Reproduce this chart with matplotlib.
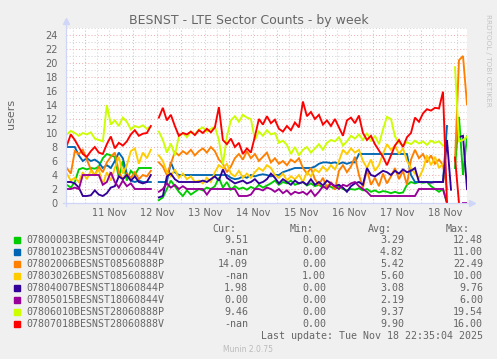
import numpy as np
import matplotlib
matplotlib.use("Agg")
import matplotlib.pyplot as plt
from matplotlib.patches import Rectangle

nan = np.nan

# readings every 2 hours, hours counted from 11 Nov 00:00
start_hour = -9
step_hours = 2

day_labels = ["11 Nov", "12 Nov", "13 Nov", "14 Nov", "15 Nov", "16 Nov", "17 Nov", "18 Nov"]

names = ["07800003BESNST00060844P", "07801023BESNST00060844V", "07802006BESNST08560888P",
         "07803026BESNST08560888V", "07804007BESNST18060844P", "07805015BESNST18060844V",
         "07806010BESNST28060888P", "07807018BESNST28060888V"]
colors = ["#00CC00", "#0066B3", "#FF8000", "#FFCC00", "#330099", "#990099", "#CCFF00", "#FF0000"]
cur_vals = ["9.51", "-nan", "14.09", "-nan", "1.98", "0.00", "9.46", "-nan"]
min_vals = ["0.00", "0.00", "0.00", "1.00", "0.00", "0.00", "0.00", "0.00"]
avg_vals = ["3.29", "4.82", "5.42", "5.60", "3.08", "2.19", "9.37", "9.90"]
max_vals = ["12.48", "11.00", "22.49", "10.00", "9.76", "6.00", "19.54", "16.00"]

green = [2.6, 2.2, 3.0, 4.8, 5.0, 4.8, 5.0, 4.9, 5.2, 6.4,
         7.0, 6.8, 6.6, 3.6, 6.0, 3.2, 4.6, 4.0, 5.0, 5.0,
         5.0, 5.0, nan, 0.4, 0.8, 2.0, 3.2, 2.4, 1.6, 1.0,
         1.8, 1.2, 1.6, 2.0, 1.8, 2.2, 2.0, 2.4, 3.6, 2.2,
         3.0, 1.9, 2.4, 2.0, 2.2, 1.9, 2.3, 2.0, 2.6, 2.2,
         2.5, 2.8, 3.2, 2.6, 3.0, 2.8, 3.2, 2.6, 2.8, 3.0,
         2.5, 2.8, 2.4, 2.6, 2.2, 2.5, 2.3, 2.0, 2.4, 2.0,
         1.8, 2.0, 1.9, 2.1, 1.8, 2.0, 1.6, 1.8, 1.5, 1.7,
         1.6, 1.4, 1.6, 1.4, 1.5, 2.6, 3.0, 2.8, 3.0, 2.9,
         3.0, 2.4, 2.0, 1.6, 2.0, 0.0, nan, 5.0, 12.3, 4.0,
         9.51]
blue = [8.0, 8.0, 8.0, 6.8, 6.0, 6.4, 6.0, 6.2, 5.8, 5.0,
        5.4, 5.0, 6.0, 7.2, 6.4, 4.2, 3.2, 3.0, 3.2, 3.0,
        3.0, 3.0, nan, 3.0, 3.0, 3.0, 5.8, 4.4, 4.0, 4.0,
        4.0, 4.0, 4.0, 4.0, 4.0, 4.0, 4.0, 4.0, 4.0, 4.0,
        4.0, 3.6, 3.4, 3.5, 3.8, 3.6, 4.0, 3.8, 4.0, 4.1,
        4.0, 3.8, 4.0, 4.0, 4.4, 4.6, 4.8, 5.0, 5.0, 5.0,
        5.0, 5.0, 5.2, 5.6, 5.8, 5.8, 5.7, 5.8, 5.6, 5.8,
        5.6, 5.8, 5.8, 7.0, 7.0, 7.0, 7.0, 7.0, 7.0, 7.0,
        7.0, 7.0, 7.0, 7.0, 7.0, 7.0, 4.0, 3.0, 3.0, 3.0,
        3.0, 3.0, 3.0, 3.0, 3.0, 11.0, nan, nan, nan, nan,
        nan]
orange = [5.0, 4.2, 7.4, 7.0, 7.6, 6.2, 4.8, 4.0, 5.2, 4.4,
          5.8, 6.6, 7.2, 4.4, 3.4, 4.2, 3.6, 4.4, 3.4, 4.0,
          3.8, 4.6, nan, 5.8, 5.2, 4.0, 5.6, 7.3, 6.8, 7.4,
          7.0, 7.6, 6.8, 7.4, 7.8, 7.2, 8.0, 7.4, 6.2, 5.6,
          4.4, 5.2, 6.4, 7.0, 6.2, 7.4, 6.4, 7.0, 6.0, 6.6,
          7.2, 5.8, 6.4, 5.6, 6.0, 5.4, 6.2, 5.8, 6.4, 5.0,
          4.2, 5.0, 3.4, 2.6, 3.6, 2.2, 3.0, 1.9, 4.6, 5.4,
          4.4, 5.2, 6.6, 4.0, 2.2, 4.8, 2.6, 3.6, 2.4, 4.2,
          2.8, 3.8, 5.0, 3.4, 4.6, 2.6, 6.2, 7.6, 6.4, 7.0,
          5.8, 6.8, 5.6, 6.2, 5.4, 2.0, nan, 6.0, 20.4, 21.0,
          14.09]
yellow = [4.2, 3.2, 3.6, 3.0, 4.4, 3.4, 4.6, 4.0, 4.8, 2.6,
          4.4, 3.2, 5.0, 6.6, 4.2, 5.4, 7.4, 7.8, 5.6, 7.2,
          6.4, 7.6, nan, 6.8, 6.0, 4.4, 3.8, 4.8, 3.6, 4.2,
          3.4, 3.8, 3.0, 3.2, 2.8, 3.6, 3.0, 4.4, 5.4, 5.0,
          5.6, 4.2, 3.8, 4.6, 3.6, 4.2, 3.6, 4.4, 5.0, 4.6,
          5.4, 5.0, 4.0, 3.6, 4.2, 3.2, 3.8, 3.4, 4.0, 3.0,
          4.4, 3.8, 4.8, 4.4, 5.2, 4.6, 5.4, 4.8, 6.0, 7.6,
          7.0, 7.8, 7.2, 7.6, 6.0, 5.0, 6.2, 4.6, 5.4, 7.0,
          8.4, 7.6, 8.2, 7.0, 7.8, 6.0, 5.0, 4.2, 3.6, 4.8,
          6.8, 5.4, 6.6, 5.0, 5.6, nan, nan, nan, nan, nan,
          nan]
indigo = [3.0, 3.0, 2.8, 2.2, 1.0, 1.0, 1.1, 1.8, 1.2, 1.0,
          1.4, 2.2, 2.4, 3.8, 3.4, 4.0, 3.2, 3.8, 3.0, 2.8,
          3.0, 4.0, nan, 0.8, 1.0, 3.8, 4.2, 3.4, 3.0, 3.0,
          3.0, 3.0, 3.0, 3.0, 3.2, 3.0, 3.4, 3.8, 3.2, 4.8,
          3.6, 3.2, 2.8, 3.0, 3.2, 2.8, 3.0, 3.4, 2.8, 3.0,
          3.4, 4.2, 3.6, 2.8, 3.4, 3.0, 2.6, 3.2, 2.8, 3.0,
          2.6, 3.4, 2.6, 3.0, 2.5, 3.2, 2.8, 2.4, 2.6, 2.2,
          1.6, 2.4, 2.8, 3.0, 2.6, 5.0, 4.0, 3.8, 4.2, 4.6,
          4.4, 4.0, 4.6, 4.2, 4.8, 4.4, 4.6, 5.0, 3.0, 3.0,
          3.0, 2.9, 3.0, 3.0, 3.0, 9.0, 1.9, nan, 9.4, 9.6,
          1.98]
purple = [2.0, 2.0, 2.2, 2.0, 4.0, 4.0, 4.0, 4.0, 4.0, 2.6,
          3.0, 4.4, 3.0, 2.2, 3.2, 2.4, 2.8, 2.0, 2.0, 2.0,
          2.0, 2.0, nan, 1.6, 2.0, 2.8, 2.2, 2.6, 2.0, 2.4,
          2.0, 2.0, 2.0, 2.0, 2.0, 1.2, 2.0, 2.0, 2.0, 2.0,
          2.0, 2.0, 2.0, 1.0, 1.0, 1.0, 1.2, 2.0, 2.0, 1.8,
          2.2, 2.0, 1.6, 2.0, 1.4, 1.8, 1.2, 1.6, 1.4, 1.6,
          1.2, 1.8, 1.0, 1.6, 2.4, 2.0, 2.8, 2.4, 2.0, 2.6,
          2.4, 2.8, 3.0, 2.4, 2.0, 1.6, 1.0, 1.0, 1.0, 1.0,
          1.0, 1.0, 1.0, 1.0, 1.0, 1.0, 1.0, 1.0, 2.0, 2.0,
          2.0, 2.0, 2.0, 2.0, 2.0, 0.0, nan, nan, nan, 0.0,
          0.0]
lime = [9.8, 10.3, 10.0, 9.6, 10.0, 9.8, 10.1, 9.2, 9.0, 8.8,
        14.0, 11.2, 11.8, 11.0, 12.2, 11.6, 10.5, 11.0, 10.8, 11.1,
        10.6, 10.9, nan, 10.2, 9.0, 7.2, 8.5, 6.8, 9.5, 10.0,
        9.4, 10.2, 9.8, 10.5, 10.8, 10.2, 10.6, 10.9, 9.0, 5.5,
        9.5, 11.8, 12.4, 11.6, 12.6, 12.2, 12.0, 9.0, 10.2, 9.6,
        10.4, 9.8, 10.0, 8.6, 8.9, 8.3, 7.0, 8.0, 6.8, 7.6,
        8.0, 7.2, 7.8, 8.4, 7.6, 8.6, 9.0, 8.8, 9.4, 8.2,
        8.8, 9.6, 9.2, 9.8, 9.0, 10.0, 8.8, 9.6, 8.4, 10.5,
        12.3, 12.0, 9.5, 8.6, 8.2, 8.7, 8.4, 8.9, 8.5, 8.8,
        8.3, 8.9, 8.6, 8.8, 8.2, nan, nan, 19.4, 8.8, 9.0,
        9.46]
red = [8.2, 9.8, 9.0, 8.0, 7.0, 6.6, 7.4, 8.0, 7.2, 7.0,
       8.4, 9.5, 7.8, 8.6, 8.2, 8.8, 9.8, 10.4, 9.6, 9.9,
       10.0, 11.0, nan, 12.2, 13.6, 11.8, 12.6, 11.0, 9.6, 10.0,
       9.8, 10.2, 9.7, 10.4, 10.0, 10.6, 10.1, 10.8, 13.7, 9.0,
       8.4, 9.2, 8.0, 8.6, 7.0, 7.8, 7.2, 9.5, 12.0, 11.2,
       12.4, 11.4, 11.9, 10.6, 10.2, 11.0, 10.4, 11.5, 10.8, 14.5,
       12.4, 13.0, 12.0, 12.6, 11.2, 11.8, 11.0, 12.0, 10.8, 9.6,
       11.8, 12.2, 11.4, 12.5, 10.0, 9.0, 9.6, 8.4, 7.5, 6.6,
       5.4, 6.8, 8.2, 9.0, 8.0, 9.4, 10.0, 12.2, 11.6, 12.8,
       13.4, 13.2, 13.6, 13.5, 15.9, 0.0, nan, 6.5, 0.0, nan,
       nan]

series = [green, blue, orange, yellow, indigo, purple, lime, red]

W, H = 497, 359
font_col = "#666666"
axis_col = "#CFD6F8"
grid_col = "#D5D5D5"
mgrid_col = "#F2B0B0"

fig = plt.figure(figsize=(W / 100, H / 100), dpi=100, facecolor="#F0F0F0")
ax = fig.add_axes([66 / W, 1 - 203 / H, 401 / W, 175 / H])
ax.set_facecolor("white")

hours = start_hour + step_hours * np.arange(len(red))
x_left, x_right = -9.4, 191

# grid: gray every 6 h / 1 user, red every day / 2 users
for h in range(-6, 192, 6):
    c = mgrid_col if h % 24 == 0 else grid_col
    ax.axvline(h, color=c, lw=0.75, ls=(0, (1, 2)), zorder=1 if h % 24 else 2)
for y in range(1, 26):
    c = mgrid_col if y % 2 == 0 else grid_col
    ax.axhline(y, color=c, lw=0.75, ls=(0, (1, 2)), zorder=1 if y % 2 else 2)

for vals, col in zip(series, colors):
    ax.plot(hours, vals, color=col, lw=1.35, zorder=3, solid_joinstyle="miter")

ax.set_xlim(x_left, x_right)
ax.set_ylim(0, 25)
for s in ax.spines.values():
    s.set_visible(False)

ax.set_xticks([12 + 24 * k for k in range(len(day_labels))])
ax.set_xticklabels(day_labels)
ax.set_yticks(range(0, 25, 2))
ax.tick_params(axis="both", length=0, labelsize=7, labelcolor=font_col)
ax.tick_params(axis="x", pad=3.5)
ax.tick_params(axis="y", pad=5.8)

# axis lines with arrows
ax.plot([0, 0], [-0.015, 1.03], color=axis_col, lw=0.9, transform=ax.transAxes, clip_on=False, zorder=4)
ax.plot([-0.008, 1.01], [0, 0], color=axis_col, lw=0.9, transform=ax.transAxes, clip_on=False, zorder=4)
ax.plot([0], [1.04], marker="^", ms=4.5, color=axis_col, mec=axis_col, transform=ax.transAxes, clip_on=False)
ax.plot([1.0135], [0], marker=">", ms=4.5, color=axis_col, mec=axis_col, transform=ax.transAxes, clip_on=False)

def fx(px):
    return px / W

def fy(py):
    return 1 - py / H

fig.text(fx(248.5), fy(24), "BESNST - LTE Sector Counts - by week", fontsize=9,
         color=font_col, ha="center", va="baseline")
fig.text(fx(11), fy(114), "users", fontsize=8, color=font_col, rotation=90,
         ha="center", va="center")
fig.text(fx(488), fy(14), "RRDTOOL / TOBI OETIKER", fontsize=5.2, color="#C4C4C4",
         rotation=270, ha="center", va="top")

mono = dict(family="DejaVu Sans Mono", fontsize=7.2, color=font_col)
base = 231.7
for label, xr in zip(["Cur:", "Min:", "Avg:", "Max:"], [236, 314, 392, 470]):
    fig.text(fx(xr), fy(base), label, ha="right", va="baseline", **mono)

for k in range(len(names)):
    yb = 243.4 + 12 * k
    fig.add_artist(Rectangle((fx(14), fy(yb - 0.5)), 6 / W, 6 / H, color=colors[k],
                             transform=fig.transFigure))
    fig.text(fx(26), fy(yb), names[k], ha="left", va="baseline", **mono)
    for val, xr in zip([cur_vals[k], min_vals[k], avg_vals[k], max_vals[k]], [248, 326, 404, 483]):
        fig.text(fx(xr), fy(yb), val, ha="right", va="baseline", **mono)

fig.text(fx(483), fy(339.2), "Last update: Tue Nov 18 22:35:04 2025", ha="right", va="baseline", **mono)
fig.text(fx(248), fy(351.5), "Munin 2.0.75", fontsize=5.5, color="#BBBBBB", ha="center", va="baseline")

fig.savefig("out.png", dpi=100, facecolor=fig.get_facecolor())
